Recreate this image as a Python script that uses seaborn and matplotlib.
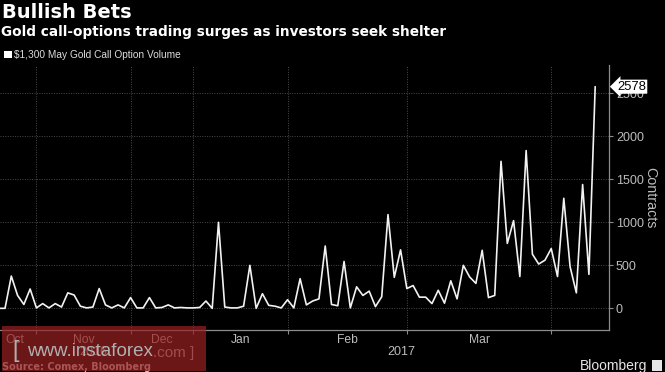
import pandas as pd
import seaborn as sns
import matplotlib.pyplot as plt
from matplotlib.patches import Patch, Rectangle
from matplotlib.transforms import blended_transform_factory

# daily volume of the $1,300 May gold call (one point per session)
volume = [0, 0, 375, 150, 45, 225, 5, 55, 5, 55,
          15, 180, 155, 25, 5, 15, 230, 40, 5, 40,
          5, 125, 5, 5, 125, 5, 10, 40, 5, 10,
          5, 5, 10, 85, 0, 1000, 15, 5, 5, 25,
          500, 0, 170, 35, 25, 5, 100, 5, 345, 40,
          85, 110, 725, 45, 30, 545, 5, 250, 150, 200,
          20, 135, 1090, 360, 680, 230, 265, 130, 130, 55,
          210, 60, 320, 110, 500, 365, 290, 675, 125, 150,
          1710, 755, 1020, 370, 1835, 630, 515, 560, 695, 370,
          1280, 485, 180, 1440, 395, 2578]

month_labels = ['Oct', 'Nov', 'Dec', 'Jan', 'Feb', 'Mar']
month_edges = [-0.75, 6, 21, 31, 46, 65, 88]
year_labels = ['2016', '2017']
year_edges = [-0.75, 31, 97.2]
y_ticks = [0, 500, 1000, 1500, 2000, 2500]

df = pd.DataFrame({'session': range(len(volume)), 'volume': volume})

sns.set_theme(style='dark')
plt.rcParams['font.family'] = ['Liberation Sans', 'DejaVu Sans']

bg = '#000000'
grey = '#bcbcbc'
axis_col = '#8c8c8c'
sans = ['Liberation Sans', 'DejaVu Sans']

fig = plt.figure(figsize=(6.65, 3.72), dpi=100, facecolor=bg)
ax = fig.add_axes([0, 42 / 372, 609 / 665, 265 / 372])
ax.set_facecolor(bg)

sns.lineplot(data=df, x='session', y='volume', ax=ax, color='#f2f2f2', lw=1.2, zorder=3)

ax.set_xlim(0.2, year_edges[-1])
ax.set_ylim(-252, 2830)

# y axis on the right
ax.yaxis.tick_right()
ax.set_yticks(y_ticks)
ax.tick_params(axis='y', which='major', right=True, left=False, length=3, width=0.8,
               color=axis_col, labelcolor=grey, labelsize=9, pad=2)
ax.set_ylabel('Contracts', rotation=270, color=grey, fontsize=10.3, va='center', ha='center')
ax.yaxis.set_label_coords(1.067, 0.5)

# month boundaries as major ticks, month names at the middle
month_mid = [(month_edges[i] + month_edges[i + 1]) / 2 for i in range(len(month_labels))]
ax.set_xticks(month_edges[1:])
ax.set_xticklabels([])
ax.set_xticks(month_mid, minor=True)
ax.set_xticklabels(month_labels, minor=True)
ax.tick_params(axis='x', which='major', bottom=True, length=3, width=0.8, color=axis_col)
ax.tick_params(axis='x', which='minor', bottom=False, length=0, labelcolor=grey, labelsize=8.7, pad=3)
ax.set_xlabel('')

ax.grid(True, which='major', axis='both', color='#4a4a4a', linestyle=(0, (1, 1.5)), lw=0.7)

for side in ['left', 'top']:
    ax.spines[side].set_visible(False)
for side in ['right', 'bottom']:
    ax.spines[side].set_visible(True)
    ax.spines[side].set_color(axis_col)
    ax.spines[side].set_linewidth(0.9)

trans = blended_transform_factory(ax.transData, fig.transFigure)
for i, yr in enumerate(year_labels):
    ax.text((year_edges[i] + year_edges[i + 1]) / 2, 20 / 372, yr, transform=trans,
            ha='center', va='center', color=grey, fontsize=9)

# last value tag
tag = blended_transform_factory(ax.transAxes, ax.transData)
ax.text(1.0135, volume[-1], str(volume[-1]), transform=tag, ha='left', va='center',
        color='black', fontsize=9.4, zorder=5, clip_on=False,
        bbox=dict(boxstyle='larrow,pad=0.08', fc='white', ec='none'))

# titles and legend
fig.text(2 / 665, 1 - 12 / 372, 'Bullish Bets', color='white', fontsize=14,
         fontweight='bold', family='DejaVu Sans', va='center', ha='left')
fig.text(1 / 665, 1 - 32 / 372, 'Gold call-options trading surges as investors seek shelter',
         color='white', fontsize=9.8, fontweight='bold', family='DejaVu Sans', va='center', ha='left')
leg = fig.legend(handles=[Patch(fc='white', ec='none', label='$1,300 May Gold Call Option Volume')],
                 loc='center left', bbox_to_anchor=(4 / 665, 1 - 55 / 372), frameon=False,
                 handlelength=0.75, handleheight=0.75, handletextpad=0.25, borderpad=0, borderaxespad=0,
                 prop={'size': 7.3})
for t in leg.get_texts():
    t.set_color('#dcdcdc')

fig.text(2 / 665, 1 - 367 / 372, 'Source: Comex, Bloomberg', color='#cfcfcf', fontsize=7,
         fontweight='bold', family='DejaVu Sans', va='center', ha='left')
fig.text(647 / 665, 1 - 366 / 372, 'Bloomberg', color='#e6e6e6', fontsize=10,
         va='center', ha='right')
fig.patches.append(Rectangle((652 / 665, 1 - 371 / 372), 10 / 665, 11 / 372, transform=fig.transFigure,
                             fc='#e6e6e6', ec='none'))

# watermark overlay
fig.patches.append(Rectangle((2 / 665, 1 - 371 / 372), 204 / 665, 45 / 372, transform=fig.transFigure,
                             fc='#9a2222', ec='none', alpha=0.7, zorder=10))
wm = '#b0b0b0'
fig.text(12 / 665, 1 - 351 / 372, '[', color=wm, fontsize=17, va='center', zorder=11)
w1 = fig.text(27 / 665, 1 - 351 / 372, 'www.instaforex', color=wm, fontsize=13.5,
              va='center', zorder=11)
ax.annotate('.com ]', xy=(1, 0), xycoords=w1, va='bottom', ha='left', color=wm,
            fontsize=11, zorder=11, annotation_clip=False)

fig.savefig('out.png', dpi=100, facecolor=bg)
